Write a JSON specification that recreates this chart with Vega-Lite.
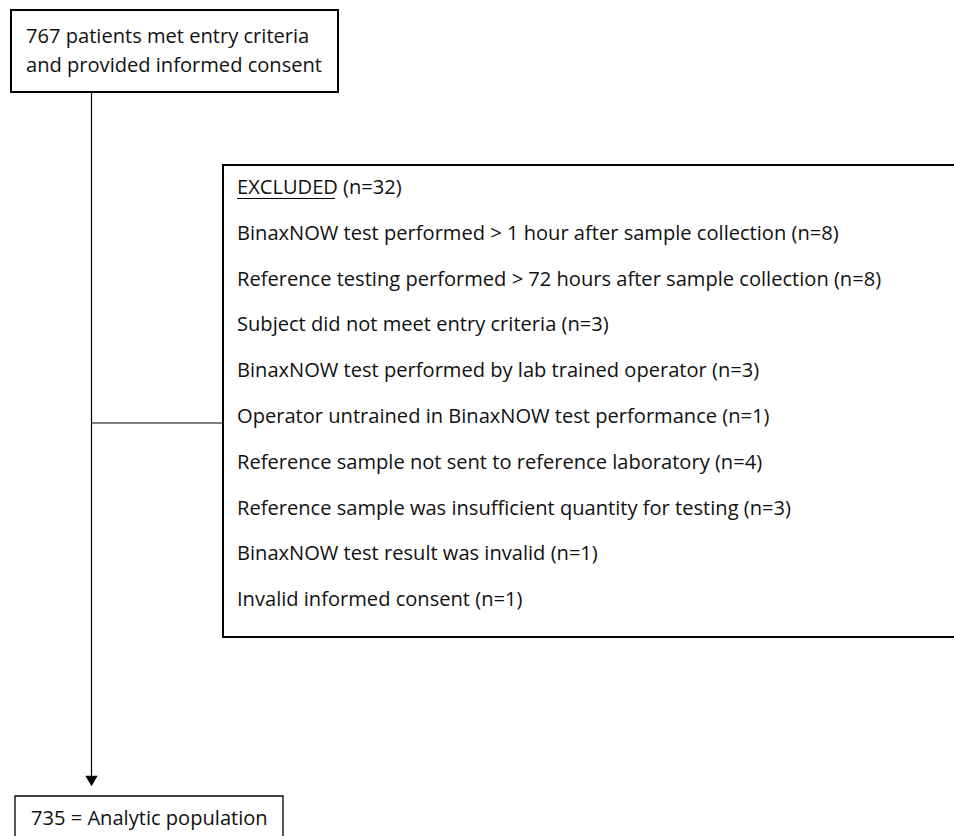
{
  "$schema": "https://vega.github.io/schema/vega-lite/v6.json",
  "width": 954,
  "height": 836,
  "autosize": {"type": "fit", "contains": "padding"},
  "padding": 0,
  "background": "white",
  "config": {"view": {"stroke": null}},
  "datasets": {
    "boxes": [
      {"id": "start", "x": 11, "x2": 338, "y": 10, "y2": 92},
      {"id": "excluded", "x": 223, "x2": 990, "y": 165, "y2": 637},
      {"id": "end", "x": 15, "x2": 283, "y": 796, "y2": 880}
    ],
    "lines": [
      {"id": "down", "x": 91.5, "x2": 91.5, "y": 92, "y2": 777},
      {"id": "branch", "x": 91.5, "x2": 223, "y": 423, "y2": 423},
      {"id": "underline", "x": 237, "x2": 335, "y": 198.5, "y2": 198.5}
    ],
    "arrows": [{"x": 91.5, "y": 781}],
    "labels": [
      {"x": 26, "y": 42.5, "text": "767 patients met entry criteria"},
      {"x": 26, "y": 71.5, "text": "and provided informed consent"},
      {"x": 237, "y": 194, "text": "EXCLUDED (n=32)"},
      {"x": 237, "y": 239.8, "text": "BinaxNOW test performed > 1 hour after sample collection (n=8)"},
      {"x": 237, "y": 285.6, "text": "Reference testing performed > 72 hours after sample collection (n=8)"},
      {"x": 237, "y": 331.4, "text": "Subject did not meet entry criteria (n=3)"},
      {"x": 237, "y": 377.2, "text": "BinaxNOW test performed by lab trained operator (n=3)"},
      {"x": 237, "y": 423, "text": "Operator untrained in BinaxNOW test performance (n=1)"},
      {"x": 237, "y": 468.8, "text": "Reference sample not sent to reference laboratory (n=4)"},
      {"x": 237, "y": 514.6, "text": "Reference sample was insufficient quantity for testing (n=3)"},
      {"x": 237, "y": 560.4, "text": "BinaxNOW test result was invalid (n=1)"},
      {"x": 237, "y": 606.2, "text": "Invalid informed consent (n=1)"},
      {"x": 31, "y": 825, "text": "735 = Analytic population"}
    ]
  },
  "encoding": {
    "x": {"field": "x", "type": "quantitative", "scale": {"domain": [0, 954], "nice": false, "zero": false}, "axis": null},
    "y": {"field": "y", "type": "quantitative", "scale": {"domain": [0, 836], "nice": false, "zero": false, "reverse": true}, "axis": null}
  },
  "layer": [
    {
      "data": {"name": "boxes"},
      "transform": [{"filter": "datum.id !== 'end'"}],
      "mark": {"type": "rect", "fill": "white", "stroke": "black", "strokeWidth": 2, "clip": true},
      "encoding": {"x2": {"field": "x2"}, "y2": {"field": "y2"}}
    },
    {
      "data": {"name": "boxes"},
      "transform": [{"filter": "datum.id === 'end'"}],
      "mark": {"type": "rect", "fill": "white", "stroke": "black", "strokeWidth": 1.3, "clip": true},
      "encoding": {"x2": {"field": "x2"}, "y2": {"field": "y2"}}
    },
    {
      "data": {"name": "lines"},
      "mark": {"type": "rule", "color": "black", "strokeWidth": 1.2},
      "encoding": {"x2": {"field": "x2"}, "y2": {"field": "y2"}}
    },
    {
      "data": {"name": "arrows"},
      "mark": {"type": "point", "shape": "triangle-down", "filled": true, "color": "black", "size": 150, "opacity": 1},
      "encoding": {}
    },
    {
      "data": {"name": "labels"},
      "mark": {"type": "text", "align": "left", "baseline": "alphabetic", "font": "Open Sans", "fontSize": 20.1, "color": "#111"},
      "encoding": {"text": {"field": "text"}}
    }
  ]
}
